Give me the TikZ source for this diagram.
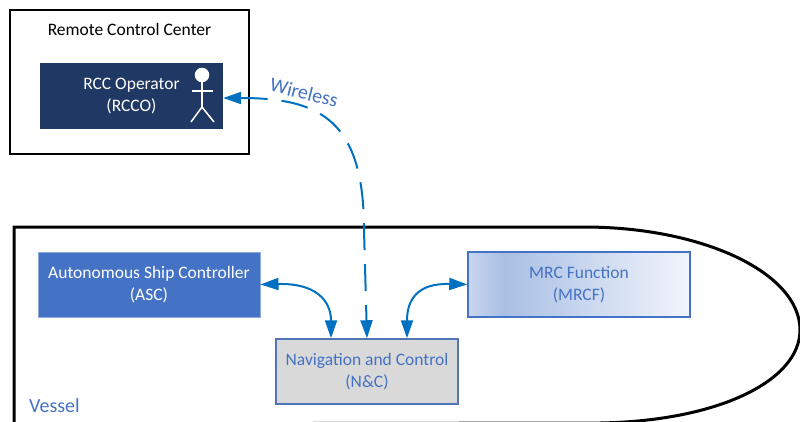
\documentclass[tikz,border=0pt]{standalone}
\usepackage{fontspec}
\setmainfont{Carlito}
\usetikzlibrary{arrows.meta}
\definecolor{navy}{HTML}{203864}
\definecolor{ascblue}{HTML}{4472C4}
\definecolor{ascborder}{HTML}{8FAADC}
\definecolor{txtblue}{HTML}{4472C4}
\definecolor{arrblue}{HTML}{0070C0}
\definecolor{ncgray}{HTML}{D9D9D9}
\definecolor{mrcfa}{HTML}{C9D6EF}
\definecolor{mrcfb}{HTML}{A9BFE4}
\definecolor{mrcfc}{HTML}{F2F5FB}
\pgfdeclarehorizontalshading{mrcfshade}{100bp}{color(0bp)=(mrcfa); color(25bp)=(mrcfa); color(33bp)=(mrcfb); color(75bp)=(mrcfc); color(100bp)=(mrcfc)}
\tikzset{
  every node/.style={font=\fontsize{17.5}{22}\selectfont, align=center, inner sep=0pt},
  boxbase/.style={rectangle, minimum width=#1, minimum height=65pt},
  rccframe/.style={draw=black, line width=2pt, minimum width=239pt, minimum height=144pt},
  rccobox/.style={fill=navy, text=white, minimum width=183pt, minimum height=66pt},
  ascbox/.style={boxbase=222pt, fill=ascblue, draw=ascborder, line width=1pt, text=white},
  mrcfbox/.style={boxbase=222pt, shading=mrcfshade, draw=ascblue, line width=1.5pt, text=txtblue},
  ncbox/.style={boxbase=182pt, fill=ncgray, draw=ascblue!80!gray, line width=1.5pt, text=txtblue},
  link/.style={draw=arrblue, line width=2pt, {Triangle[length=18pt,width=12pt]}-{Triangle[length=18pt,width=12pt]}},
  wirelink/.style={link, dash pattern=on 27pt off 14pt},
  figline/.style={draw=white, line width=1.5pt},
  hull/.style={draw=black, line width=3pt},
}
\begin{document}
\begin{tikzpicture}[x=1pt,y=-1pt]
\useasboundingbox (0,0) rectangle (800,421);
% Remote control center
\node[rccframe] (rcc) at (129.5,82) {};
\node (rcctitle) at (129.5,29) {Remote Control Center};
\node[rccobox] (rcco) at (131.5,96) {RCC Operator\\(RCCO)};
% stick figure
\draw[figline, fill=white] (202,75) circle[radius=6.5pt];
\draw[figline] (202,82) -- (202,107);
\draw[figline] (192,91) -- (213,91);
\draw[figline] (191,122) -- (202,107) -- (214,122);
% vessel hull
\draw[hull] (14,440) -- (14,227) -- (584,227)
  arc[start angle=-90,end angle=0,x radius=216,y radius=103]
  .. controls (800,380) and (720,421) .. (600,423) -- (14,424);
\node[text=txtblue, font=\fontsize{20}{24}\selectfont, anchor=base west] (vessel) at (29,412) {Vessel};
% vessel boxes
\node[ascbox] (asc) at (149,284.5) {Autonomous Ship Controller\\(ASC)};
\node[mrcfbox] (mrcf) at (579,284.5) {MRC Function\\(MRCF)};
\node[ncbox] (nc) at (367,371.5) {Navigation and Control\\(N\&C)};
% connectors
\draw[link] (asc.east) .. controls (315,283) and (331,300) .. ([xshift=-36pt]nc.north);
\draw[link] (mrcf.west) .. controls (417,283) and (407,300) .. ([xshift=40pt]nc.north);
\draw[wirelink] ([yshift=-2pt]rcco.east) .. controls (320,98) and (364,120) .. (364,230) -- (nc.north);
\node[text=txtblue, font=\fontsize{20}{24}\selectfont, rotate=-14] (wireless) at (304,92.5) {Wireless};
\end{tikzpicture}
\end{document}
